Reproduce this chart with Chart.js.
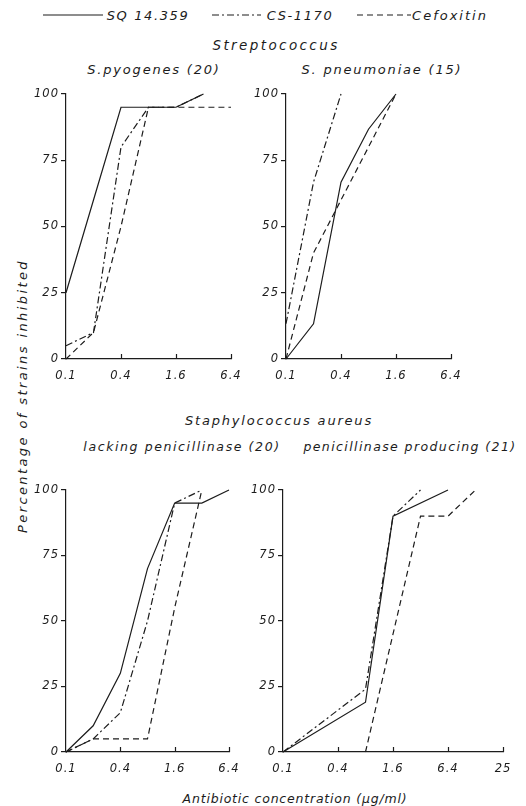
<!DOCTYPE html>
<html>
<head>
<meta charset="utf-8">
<script src="https://cdn.jsdelivr.net/npm/chart.js@4.4.1/dist/chart.umd.min.js"></script>
<style>
  body { margin: 0; background: #fff; width: 526px; height: 806px; position: relative; overflow: hidden;
         font-family: "DejaVu Sans", sans-serif; font-style: italic; color: #1c1c1c; }
  .txt { position: absolute; white-space: nowrap; transform: translate(-50%, -50%); letter-spacing: 1.6px; font-size: 12px; }
  canvas { position: absolute; }
  #legend { position: absolute; left: 0; top: 0; }
</style>
</head>
<body>
<svg id="legend" width="526" height="30">
  <line x1="43" y1="15" x2="103" y2="15" stroke="#1c1c1c" stroke-width="1.2"/>
  <line x1="212" y1="15" x2="261" y2="15" stroke="#1c1c1c" stroke-width="1.2" stroke-dasharray="7 3 2 3"/>
  <line x1="357" y1="15" x2="411" y2="15" stroke="#1c1c1c" stroke-width="1.2" stroke-dasharray="6 4"/>
</svg>
<div class="txt" style="left:148px;top:15px;font-size:13px">SQ 14.359</div>
<div class="txt" style="left:300px;top:15px;font-size:13px">CS-1170</div>
<div class="txt" style="left:450px;top:15px;font-size:13px;letter-spacing:2px">Cefoxitin</div>

<div class="txt" style="left:276px;top:45px;font-size:13.5px;letter-spacing:2.4px">Streptococcus</div>
<div class="txt" style="left:154px;top:69px;font-size:13px;letter-spacing:1.8px">S.pyogenes (20)</div>
<div class="txt" style="left:382px;top:69px;font-size:13px;letter-spacing:1.8px">S. pneumoniae (15)</div>
<div class="txt" style="left:279px;top:420px;font-size:13px;letter-spacing:1.8px">Staphylococcus aureus</div>
<div class="txt" style="left:182px;top:446px;font-size:12.5px;letter-spacing:1.6px">lacking penicillinase (20)</div>
<div class="txt" style="left:410px;top:446px;font-size:12.5px;letter-spacing:1.4px">penicillinase producing (21)</div>
<div class="txt" style="left:295px;top:798px;font-size:12.5px;letter-spacing:0.8px">Antibiotic concentration (µg/ml)</div>
<div class="txt" style="left:22px;top:396px;font-size:13px;letter-spacing:2.4px;transform:translate(-50%,-50%) rotate(-90deg)">Percentage of strains inhibited</div>

<canvas id="pyo"></canvas>
<canvas id="pneu"></canvas>
<canvas id="lack"></canvas>
<canvas id="prod"></canvas>

<script>
// tick values / labels
const xTicksShort = [0.1, 0.4, 1.6, 6.4];
const xLabelsShort = ["0.1", "0.4", "1.6", "6.4"];
const xTicksLong = [0.1, 0.4, 1.6, 6.4, 25.6];
const xLabelsLong = ["0.1", "0.4", "1.6", "6.4", "25"];
const yTicks = [0, 25, 50, 75, 100];

// S. pyogenes (20)
const pyoSqConc = [0.1, 0.2, 0.4, 0.8, 1.6, 3.2];
const pyoSqPct = [25, 60, 95, 95, 95, 100];
const pyoCsConc = [0.1, 0.2, 0.4, 0.8, 1.6, 3.2];
const pyoCsPct = [5, 10, 80, 95, 95, 100];
const pyoCefConc = [0.1, 0.2, 0.4, 0.8, 1.6, 3.2, 6.4];
const pyoCefPct = [0, 10, 50, 95, 95, 95, 95];

// S. pneumoniae (15)
const pneuSqConc = [0.1, 0.2, 0.4, 0.8, 1.6];
const pneuSqPct = [0, 13.3, 66.7, 86.7, 100];
const pneuCsConc = [0.1, 0.2, 0.4];
const pneuCsPct = [13.3, 66.7, 100];
const pneuCefConc = [0.1, 0.2, 0.4, 0.8, 1.6];
const pneuCefPct = [0, 40, 60, 80, 100];

// S. aureus lacking penicillinase (20)
const lackSqConc = [0.1, 0.2, 0.4, 0.8, 1.6, 3.2, 6.4];
const lackSqPct = [0, 10, 30, 70, 95, 95, 100];
const lackCsConc = [0.1, 0.2, 0.4, 0.8, 1.6, 3.2];
const lackCsPct = [0, 5, 15, 50, 95, 100];
const lackCefConc = [0.1, 0.2, 0.4, 0.8, 1.6, 3.2];
const lackCefPct = [0, 5, 5, 5, 55, 100];

// S. aureus penicillinase producing (21)
const prodSqConc = [0.1, 0.8, 1.6, 6.4];
const prodSqPct = [0, 19, 90, 100];
const prodCsConc = [0.1, 0.8, 1.6, 3.2];
const prodCsPct = [0, 24, 90, 100];
const prodCefConc = [0.8, 3.2, 6.4, 12.8];
const prodCefPct = [0, 90, 90, 100];

const INK = "#1c1c1c";
const FONT = "'DejaVu Sans', sans-serif";

function pts(conc, pct) {
  return conc.map((c, i) => ({ x: c, y: pct[i] }));
}

// short upward ticks on the x axis, like the original drawing
const upTicks = {
  id: "upTicks",
  beforeDraw(chart) {
    chart.ctx.letterSpacing = "1px";
  },
  afterDraw(chart, args, opts) {
    const xs = chart.scales.x;
    const ctx = chart.ctx;
    const bottom = chart.chartArea.bottom;
    ctx.save();
    ctx.strokeStyle = INK;
    ctx.lineWidth = 1.2;
    opts.values.forEach((v) => {
      if (v === xs.min) return;
      const px = Math.round(xs.getPixelForValue(v)) + 0.5;
      ctx.beginPath();
      ctx.moveTo(px, bottom);
      ctx.lineTo(px, bottom - 5);
      ctx.stroke();
    });
    ctx.restore();
  },
};

function makePanel(id, box, xMax, tickVals, tickLabels, sq, cs, cef) {
  const cv = document.getElementById(id);
  const left = box.axisX - 45, top = box.yTop - 10;
  const w = box.xRight - box.axisX + 45 + 12;
  const h = box.yBottom - box.yTop + 10 + 30;
  cv.width = w;
  cv.height = h;
  cv.style.left = left + "px";
  cv.style.top = top + "px";

  const line = (data, dash) => ({
    data,
    showLine: true,
    borderColor: INK,
    borderWidth: 1.2,
    borderDash: dash,
    pointRadius: 0,
    tension: 0,
    clip: 4,
  });

  new Chart(cv.getContext("2d"), {
    type: "scatter",
    data: {
      datasets: [
        line(sq, []),
        line(cs, [7, 3, 2, 3]),
        line(cef, [6, 4]),
      ],
    },
    options: {
      responsive: false,
      animation: false,
      events: [],
      layout: { padding: { left: 0, top: 10, right: 12, bottom: 0 } },
      plugins: {
        legend: { display: false },
        tooltip: { enabled: false },
        upTicks: { values: tickVals },
      },
      scales: {
        x: {
          type: "logarithmic",
          min: 0.1,
          max: xMax,
          afterBuildTicks: (s) => { s.ticks = tickVals.map((v) => ({ value: v })); },
          afterFit: (s) => { s.height = 30; },
          grid: { display: false },
          border: { display: true, color: INK, width: 1.2 },
          ticks: {
            color: INK,
            padding: 2,
            maxRotation: 0,
            autoSkip: false,
            font: { family: FONT, size: 11.5, style: "italic" },
            callback: (v, i) => tickLabels[i],
          },
        },
        y: {
          min: 0,
          max: 100,
          afterBuildTicks: (s) => { s.ticks = yTicks.map((v) => ({ value: v })); },
          afterFit: (s) => { s.width = 45; },
          grid: { display: true, drawOnChartArea: false, drawTicks: true, tickLength: 5, color: INK, lineWidth: 1.2 },
          border: { display: true, color: INK, width: 1.2 },
          ticks: {
            color: INK,
            padding: 2,
            font: { family: FONT, size: 11.5, style: "italic" },
            callback: (v) => String(v),
          },
        },
      },
    },
    plugins: [upTicks],
  });
}

makePanel("pyo", { axisX: 66, xRight: 231, yTop: 94, yBottom: 359 }, 6.4, xTicksShort, xLabelsShort,
  pts(pyoSqConc, pyoSqPct), pts(pyoCsConc, pyoCsPct), pts(pyoCefConc, pyoCefPct));
makePanel("pneu", { axisX: 286, xRight: 451, yTop: 94, yBottom: 359 }, 6.4, xTicksShort, xLabelsShort,
  pts(pneuSqConc, pneuSqPct), pts(pneuCsConc, pneuCsPct), pts(pneuCefConc, pneuCefPct));
makePanel("lack", { axisX: 66, xRight: 229, yTop: 490, yBottom: 752 }, 6.4, xTicksShort, xLabelsShort,
  pts(lackSqConc, lackSqPct), pts(lackCsConc, lackCsPct), pts(lackCefConc, lackCefPct));
makePanel("prod", { axisX: 283, xRight: 503, yTop: 490, yBottom: 752 }, 25.6, xTicksLong, xLabelsLong,
  pts(prodSqConc, prodSqPct), pts(prodCsConc, prodCsPct), pts(prodCefConc, prodCefPct));
</script>
</body>
</html>
